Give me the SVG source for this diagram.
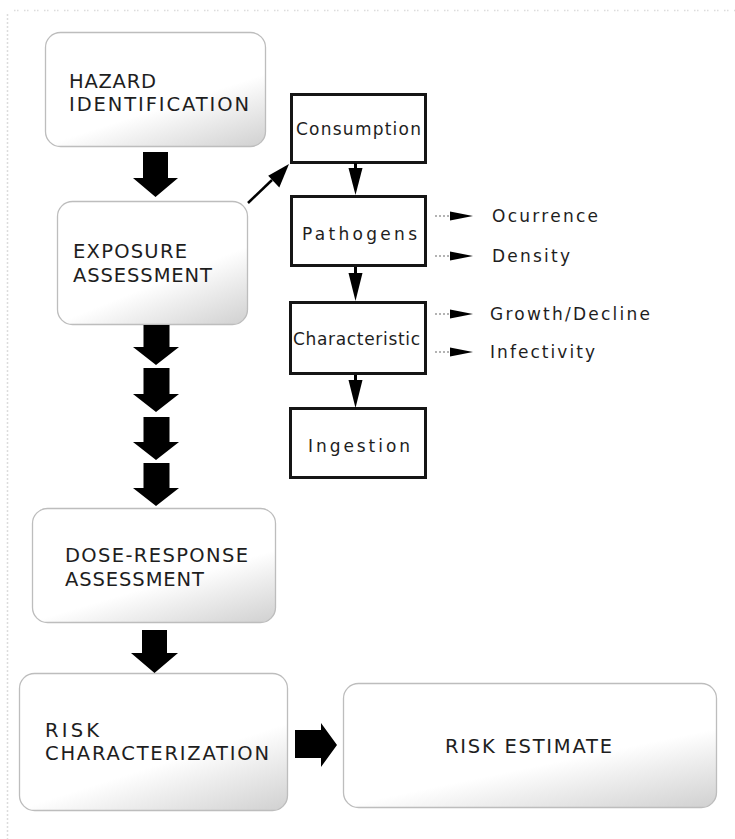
<svg xmlns="http://www.w3.org/2000/svg" width="735" height="839" viewBox="0 0 735 839">
<defs>
<linearGradient id="shade" x1="0.3" y1="0.3" x2="0.8" y2="1.1">
<stop offset="0" stop-color="#ffffff"/>
<stop offset="0.45" stop-color="#ffffff"/>
<stop offset="0.65" stop-color="#eeeeee"/>
<stop offset="1" stop-color="#d2d2d2"/>
</linearGradient>
<style>
.frame{stroke:#dcdcdc;stroke-width:1.5;fill:none;stroke-dasharray:1.5 1.5 1.5 5.5}
.soft{fill:url(#shade);stroke:#bdbdbd;stroke-width:1.3}
.sq{fill:#ffffff;stroke:#151515;stroke-width:3}
.big{font-family:"DejaVu Sans","Verdana","Liberation Sans",sans-serif;font-size:19.5px;fill:#1e1e1e}
.small{font-family:"DejaVu Sans","Verdana","Liberation Sans",sans-serif;font-size:17px;fill:#1e1e1e}
.fat{fill:#000000}
.thin{stroke:#000000;stroke-width:2.5;fill:none}
.dash{stroke:#9a9a9a;stroke-width:1.5;stroke-dasharray:2 2;fill:none}
</style>
</defs>
<rect x="0" y="0" width="735" height="839" fill="#ffffff"/>
<line class="frame" x1="14" y1="10.5" x2="735" y2="10.5"/>
<line x1="7.5" y1="14" x2="7.5" y2="839" stroke="#dcdcdc" stroke-width="1.5" stroke-dasharray="2 2"/>

<g id="hazard">
<rect class="soft" x="45.5" y="32.5" width="220" height="114" rx="15"/>
<text class="big" x="69" y="88" textLength="87" lengthAdjust="spacing">HAZARD</text>
<text class="big" x="69" y="111" textLength="180" lengthAdjust="spacing">IDENTIFICATION</text>
</g>
<g id="exposure">
<rect class="soft" x="57.5" y="201.5" width="190" height="123" rx="15"/>
<text class="big" x="73" y="258" textLength="114" lengthAdjust="spacing">EXPOSURE</text>
<text class="big" x="73" y="282" textLength="139" lengthAdjust="spacing">ASSESSMENT</text>
</g>
<g id="dose">
<rect class="soft" x="32.5" y="508.5" width="243" height="114" rx="15"/>
<text class="big" x="65" y="562" textLength="183" lengthAdjust="spacing">DOSE-RESPONSE</text>
<text class="big" x="65" y="586" textLength="139" lengthAdjust="spacing">ASSESSMENT</text>
</g>
<g id="riskchar">
<rect class="soft" x="19.5" y="673.5" width="268" height="137" rx="15"/>
<text class="big" x="45" y="737" textLength="54" lengthAdjust="spacing">RISK</text>
<text class="big" x="45" y="760" textLength="224" lengthAdjust="spacing">CHARACTERIZATION</text>
</g>
<g id="riskestimate">
<rect class="soft" x="343.5" y="683.5" width="373" height="124" rx="15"/>
<text class="big" x="445" y="753" textLength="167" lengthAdjust="spacing">RISK ESTIMATE</text>
</g>

<g id="consumption">
<rect class="sq" x="291.5" y="94.5" width="134" height="68"/>
<text class="small" x="296" y="135" textLength="125" lengthAdjust="spacing">Consumption</text>
</g>
<g id="pathogens">
<rect class="sq" x="291.5" y="196.5" width="134" height="69"/>
<text class="small" x="302" y="240" textLength="115" lengthAdjust="spacing">Pathogens</text>
</g>
<g id="characteristic">
<rect class="sq" x="290.5" y="302.5" width="135" height="71"/>
<text class="small" x="293" y="345" font-size="16" textLength="127" lengthAdjust="spacing">Characteristic</text>
</g>
<g id="ingestion">
<rect class="sq" x="290.5" y="408.5" width="135" height="69"/>
<text class="small" x="308" y="452" textLength="102" lengthAdjust="spacing">Ingestion</text>
</g>
<g id="ocurrence"><text class="small" x="492" y="222" textLength="106" lengthAdjust="spacing">Ocurrence</text></g>
<g id="density"><text class="small" x="492" y="262" textLength="78" lengthAdjust="spacing">Density</text></g>
<g id="growth"><text class="small" x="490" y="320" textLength="160" lengthAdjust="spacing">Growth/Decline</text></g>
<g id="infectivity"><text class="small" x="490" y="358" textLength="105" lengthAdjust="spacing">Infectivity</text></g>

<g id="connectors">
<path class="fat" d="M143 152 H168 V178 H178 L155.5 197 L133 178 H143 Z"/>
<path class="fat" d="M143.5 325 H169.5 V347 H179 L156 365 L133 347 H143.5 Z"/>
<path class="fat" d="M143.5 368 H169.5 V394 H179 L156 412 L133 394 H143.5 Z"/>
<path class="fat" d="M143.5 417 H169.5 V442 H179 L156 460 L133 442 H143.5 Z"/>
<path class="fat" d="M143.5 463 H169.5 V488 H179 L156 506 L133 488 H143.5 Z"/>
<path class="fat" d="M142 630 H167 V653 H178 L154.5 673 L131 653 H142 Z"/>
<path class="fat" d="M295 730 H321 V723 L337 745 L321 767 V758 H295 Z"/>

<line class="thin" x1="248" y1="203" x2="272" y2="180"/>
<polygon class="fat" points="289,164 279.3,187.4 268.2,175.7"/>

<line x1="355.5" y1="163" x2="355.5" y2="172" stroke="#000" stroke-width="3"/>
<polygon class="fat" points="348.5,168 362.5,168 355.5,195"/>
<line x1="355.5" y1="267" x2="355.5" y2="276" stroke="#000" stroke-width="3"/>
<polygon class="fat" points="348.5,273 362.5,273 355.5,301"/>
<line x1="355.5" y1="375" x2="355.5" y2="383" stroke="#000" stroke-width="3"/>
<polygon class="fat" points="348.5,380 362.5,380 355.5,408"/>

<line class="dash" x1="435" y1="216" x2="454" y2="216"/>
<polygon class="fat" points="450,211.5 473,216 450,220.5"/>
<line class="dash" x1="435" y1="256" x2="454" y2="256"/>
<polygon class="fat" points="450,251.5 473,256 450,260.5"/>
<line class="dash" x1="435" y1="314" x2="454" y2="314"/>
<polygon class="fat" points="450,309.5 473,314 450,318.5"/>
<line class="dash" x1="435" y1="352" x2="454" y2="352"/>
<polygon class="fat" points="450,347.5 473,352 450,356.5"/>
</g>
</svg>
